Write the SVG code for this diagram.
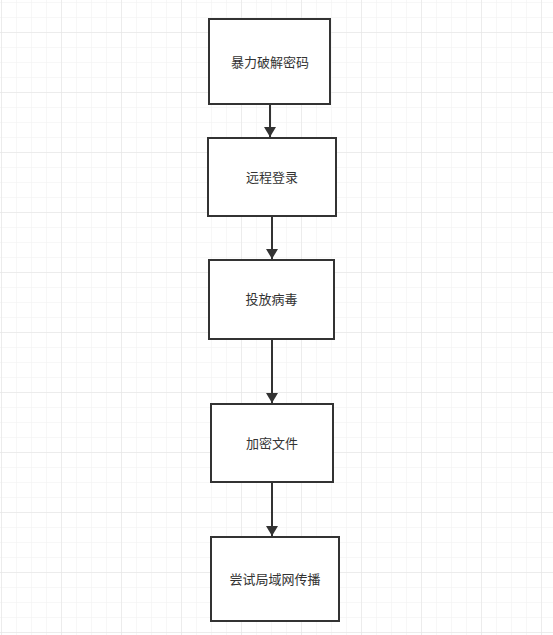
<svg xmlns="http://www.w3.org/2000/svg" width="553" height="635" viewBox="0 0 553 635">
<defs>
<pattern id="minor" x="1" y="2" width="15" height="15" patternUnits="userSpaceOnUse">
<path d="M0 0V15M0 0H15" fill="none" stroke="#efefef" stroke-width="1"/>
</pattern>
<pattern id="major" x="1" y="32" width="60" height="60" patternUnits="userSpaceOnUse">
<path d="M0 0V60M0 0H60" fill="none" stroke="#e2e2e2" stroke-width="1"/>
</pattern>
<marker id="arrow" markerWidth="10" markerHeight="12" refX="10" refY="6" orient="auto" markerUnits="userSpaceOnUse">
<path d="M0 0L10 6L0 12Z" fill="#333333"/>
</marker>
<style>
.box{fill:#ffffff;stroke:#333333;stroke-width:2}
.lbl{font-family:"Liberation Sans","Noto Sans CJK SC",sans-serif;font-size:13px;fill:#333333;text-anchor:middle;dominant-baseline:central}
.edge{stroke:#333333;stroke-width:2;fill:none;marker-end:url(#arrow)}
</style>
</defs>
<rect width="553" height="635" fill="#ffffff"/>
<rect width="553" height="635" fill="url(#minor)"/>
<rect width="553" height="635" fill="url(#major)"/>
<g id="connectors">
<path class="edge" d="M270 104V137"/>
<path class="edge" d="M272 216V259"/>
<path class="edge" d="M272 339V403"/>
<path class="edge" d="M272 482V536"/>
</g>
<g id="n1"><rect class="box" x="209" y="19" width="121" height="85"/><text class="lbl" x="270" y="62">暴力破解密码</text></g>
<g id="n2"><rect class="box" x="208" y="138" width="128" height="78"/><text class="lbl" x="272" y="177">远程登录</text></g>
<g id="n3"><rect class="box" x="209" y="260" width="125" height="79"/><text class="lbl" x="271.5" y="299.5">投放病毒</text></g>
<g id="n4"><rect class="box" x="211" y="404" width="122" height="78"/><text class="lbl" x="272" y="443">加密文件</text></g>
<g id="n5"><rect class="box" x="211" y="537" width="128" height="84"/><text class="lbl" x="275" y="579">尝试局域网传播</text></g>
</svg>
